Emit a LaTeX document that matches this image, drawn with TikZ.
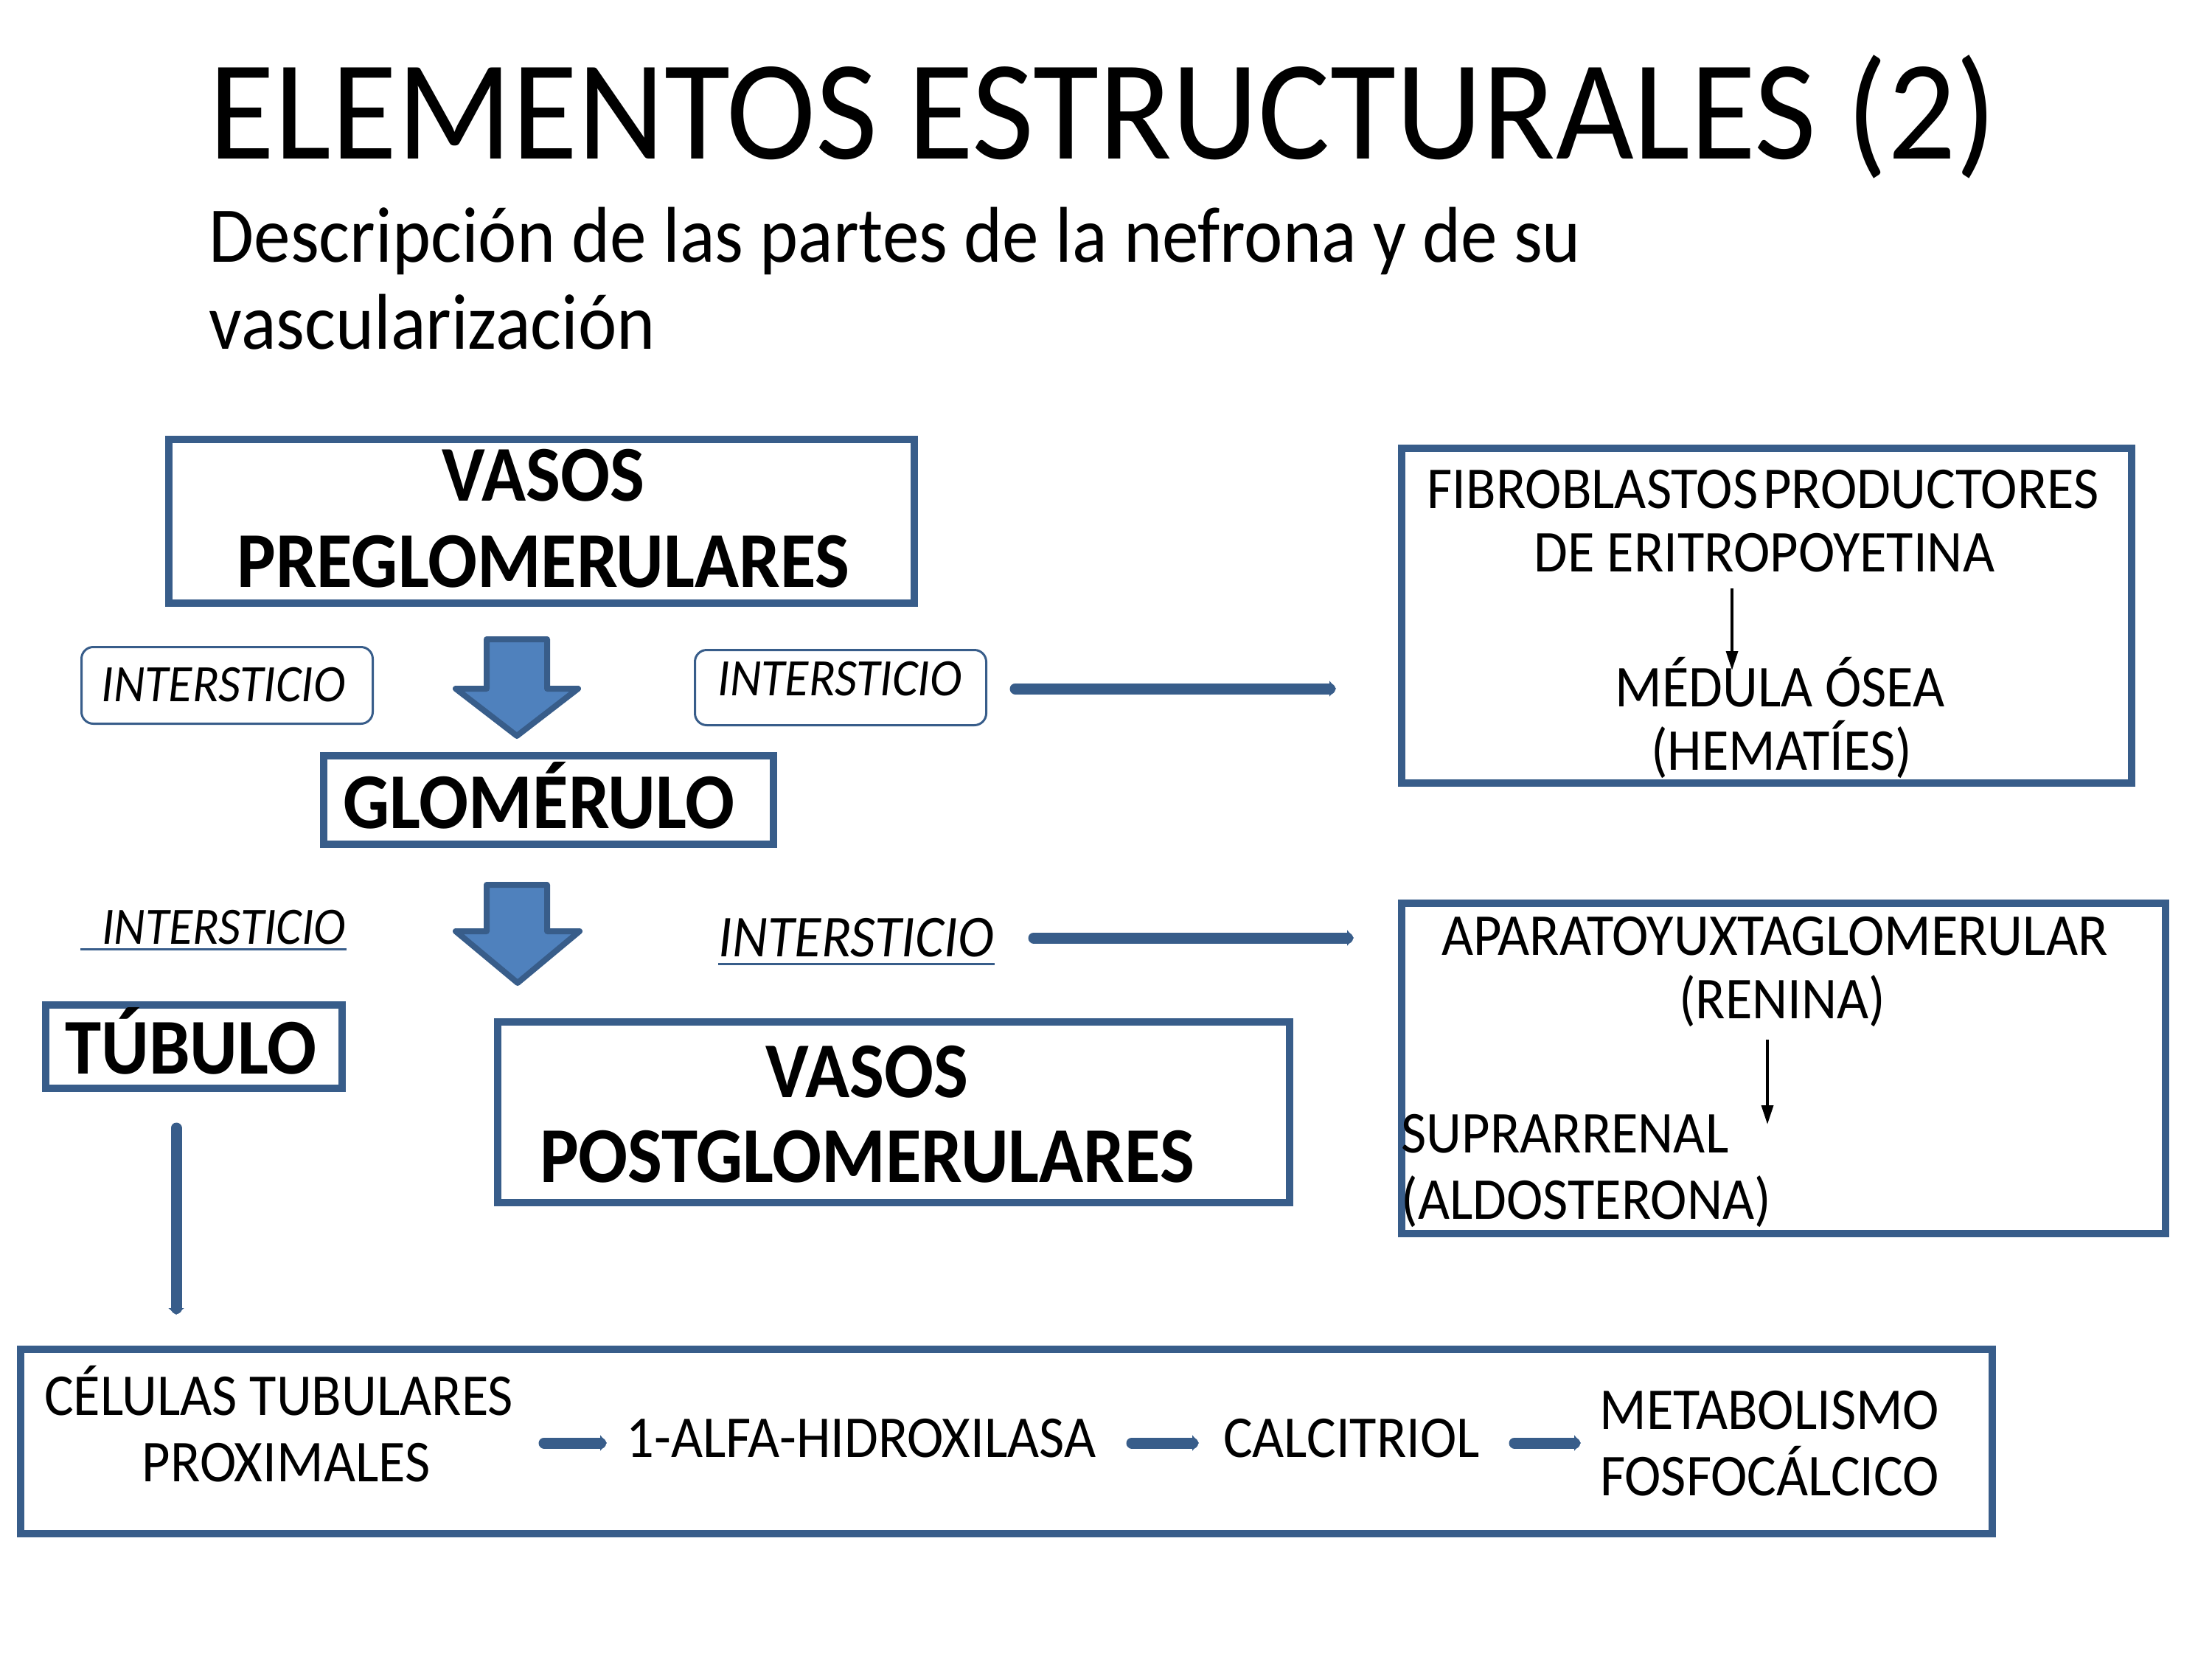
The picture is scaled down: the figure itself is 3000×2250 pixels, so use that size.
\documentclass[tikz,border=0pt]{standalone}
\usepackage{fontspec}
\setmainfont{Carlito}[FakeStretch=0.925]
\newfontfamily\titlefont{Carlito}[FakeStretch=0.948]
\usetikzlibrary{arrows.meta}
\definecolor{boxblue}{HTML}{385D8A}
\definecolor{fillblue}{HTML}{4F81BD}
\newcommand{\fs}[1]{\fontsize{#1}{#1}\selectfont}
\tikzset{
  bbox/.style={draw=boxblue, line width=1mm, fill=white, inner sep=0pt},
  rbox/.style={draw=boxblue, line width=0.3mm, rounded corners=1.6mm, fill=white, inner sep=0pt},
  txt/.style={anchor=base, inner sep=0pt, font=\fs{22.9}},
  btxt/.style={anchor=base, inner sep=0pt, font=\fs{30.5}\bfseries},
  itxt/.style={anchor=base, inner sep=0pt, font=\fs{20.3}\itshape},
  fatarrow/.style={draw=boxblue, line width=1.5mm, line cap=round, -{Triangle[length=0.9mm,width=2.1mm]}},
  thinarrow/.style={draw=black, line width=0.35mm, -{Triangle[length=2.6mm,width=1.6mm]}},
  bigarrow/.style={draw=boxblue, fill=fillblue, line width=0.8mm, line join=round},
  ul/.style={draw=boxblue, line width=0.3mm}
}
\begin{document}
\begin{tikzpicture}[x=0.1mm, y=-0.1mm]
\useasboundingbox (0,0) rectangle (3000,2250);
% title
\node[anchor=base west, inner sep=0pt, font=\titlefont\fs{54.8}] (title) at (283,216) {ELEMENTOS ESTRUCTURALES (2)};
\node[anchor=base west, inner sep=0pt, font=\fs{30.5}] (sub1) at (283,356) {Descripción de las partes de la nefrona y de su};
\node[anchor=base west, inner sep=0pt, font=\fs{30.5}] (sub2) at (283,474) {vascularización};
% box preglomerulares
\node[bbox, minimum width=101.1mm, minimum height=22.2mm] (pre) at (734.5,707) {};
\node[btxt] (pre1) at (737,679) {VASOS};
\node[btxt] (pre2) at (737,796) {PREGLOMERULARES};
% intersticio boxes
\node[rbox, minimum width=39.5mm, minimum height=10.4mm] (ib1) at (308,929.5) {};
\node[itxt] (it1) at (303,951) {INTERSTICIO};
\node[rbox, minimum width=39.5mm, minimum height=10.2mm] (ib2) at (1140,932.5) {};
\node[itxt] (it2) at (1139,943) {INTERSTICIO};
% big arrow 1
\draw[bigarrow] (660,867) -- (742,867) -- (742,934) -- (784,934) -- (701,998) -- (618,934) -- (660,934) -- cycle;
% box glomerulo
\node[bbox, minimum width=61mm, minimum height=12mm] (glo) at (744,1085) {};
\node[btxt] (glot) at (731,1123) {GLOMÉRULO};
% fibroblastos box
\node[bbox, minimum width=99mm, minimum height=45.4mm] (fib) at (2396,835) {};
\node[txt] (fib1) at (2391,689) {FIBROBLASTOS\hspace{-0.12em} PRODUCTORES};
\node[txt] (fib2) at (2393,775) {DE ERITROPOYETINA};
\node[txt] (fib3) at (2414,958) {MÉDULA ÓSEA};
\node[txt] (fib4) at (2416,1044) {(HEMATÍES)};
\coordinate (fa1) at (2349,798);
\coordinate (fa2) at (2349,909);
\draw[thinarrow] (fa1) -- (fa2);
% arrow 1 to fibroblastos
\coordinate (r1s) at (1377,934);
\coordinate (r1e) at (1812,934);
\draw[fatarrow] (r1s) -- (r1e);
% intersticio 3
\node[anchor=base west, inner sep=0pt, font=\fs{20.3}\itshape] (it3) at (109,1280) {\phantom{I}\,INTERSTICIO};
\draw[ul] ([yshift=-0.7mm]it3.base west) -- ([yshift=-0.7mm]it3.base east);
% big arrow 2
\draw[bigarrow] (660,1200) -- (742,1200) -- (742,1263) -- (786,1263) -- (702,1333) -- (618,1263) -- (660,1263) -- cycle;
% intersticio 4
\node[anchor=base west, inner sep=0pt, font=\fs{22.9}\itshape] (it4) at (974,1297) {INTERSTICIO};
\draw[ul] ([yshift=-1mm]it4.base west) -- ([yshift=-1mm]it4.base east);
\coordinate (r2s) at (1402,1272);
\coordinate (r2e) at (1836,1272);
\draw[fatarrow] (r2s) -- (r2e);
% aparato box
\node[bbox, minimum width=103.6mm, minimum height=44.8mm] (apa) at (2419,1449) {};
\node[txt] (apa1) at (2407,1295) {APARATOYUXTAGLOMERULAR};
\node[txt] (apa2) at (2417,1381) {(RENINA)};
\node[txt, anchor=base west] (apa3) at (1900,1563) {SUPRARRENAL};
\node[txt, anchor=base west] (apa4) at (1900,1653) {(ALDOSTERONA)};
\coordinate (aa1) at (2397,1410);
\coordinate (aa2) at (2397,1525);
\draw[thinarrow] (aa1) -- (aa2);
% tubulo
\node[bbox, minimum width=40.2mm, minimum height=11.3mm] (tub) at (263,1419.5) {};
\node[btxt] (tubt) at (259,1456) {TÚBULO};
% postglomerulares
\node[bbox, minimum width=107.4mm, minimum height=24.5mm] (post) at (1212,1508.5) {};
\node[btxt] (post1) at (1176,1488) {VASOS};
\node[btxt] (post2) at (1176,1603) {POSTGLOMERULARES};
% vertical arrow
\coordinate (vs) at (239,1530);
\coordinate (ve) at (239,1783);
\draw[fatarrow] (vs) -- (ve);
% bottom box
\node[bbox, minimum width=267.4mm, minimum height=25mm] (bot) at (1365,1955) {};
\node[txt] (b1a) at (378,1919) {CÉLULAS TUBULARES};
\node[txt] (b1b) at (388,2009) {PROXIMALES};
\node[txt] (b2) at (1168,1976) {1-ALFA-HIDROXILASA};
\node[txt] (b3) at (1833,1976) {CALCITRIOL};
\node[txt] (b4a) at (2400,1938) {METABOLISMO};
\node[txt] (b4b) at (2400,2028) {FOSFOCÁLCICO};
\coordinate (ba1) at (738,1957);
\coordinate (ba2) at (823,1957);
\coordinate (bb1) at (1535,1957);
\coordinate (bb2) at (1626,1957);
\coordinate (bc1) at (2054,1957);
\coordinate (bc2) at (2144,1957);
\draw[fatarrow] (ba1) -- (ba2);
\draw[fatarrow] (bb1) -- (bb2);
\draw[fatarrow] (bc1) -- (bc2);
\end{tikzpicture}
\end{document}
